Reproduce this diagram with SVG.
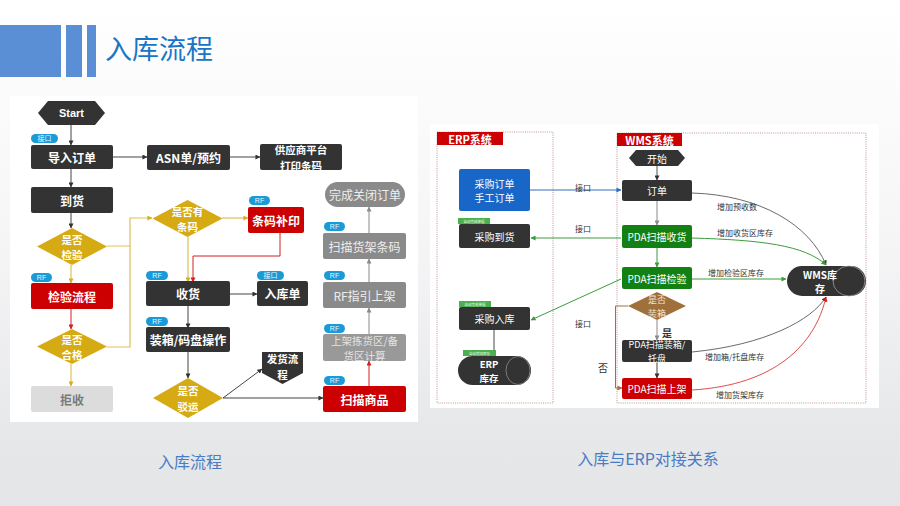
<svg xmlns="http://www.w3.org/2000/svg" width="900" height="506" viewBox="0 0 900 506">
<defs>
<linearGradient id="bg" x1="0" y1="0" x2="0" y2="1">
<stop offset="0" stop-color="#ffffff"/>
<stop offset="0.45" stop-color="#f6f6f7"/>
<stop offset="0.85" stop-color="#e7e8ea"/>
<stop offset="1" stop-color="#e4e5e7"/>
</linearGradient>
<marker id="aK" viewBox="0 0 6 6" refX="5.5" refY="3" markerWidth="5" markerHeight="5" orient="auto" markerUnits="userSpaceOnUse"><path d="M0,0 L6,3 L0,6 z" fill="#333"/></marker>
<marker id="aG" viewBox="0 0 6 6" refX="5.5" refY="3" markerWidth="5" markerHeight="5" orient="auto" markerUnits="userSpaceOnUse"><path d="M0,0 L6,3 L0,6 z" fill="#8a8a8a"/></marker>
<marker id="aY" viewBox="0 0 6 6" refX="5.5" refY="3" markerWidth="5" markerHeight="5" orient="auto" markerUnits="userSpaceOnUse"><path d="M0,0 L6,3 L0,6 z" fill="#d8ad1a"/></marker>
<marker id="aR" viewBox="0 0 6 6" refX="5.5" refY="3" markerWidth="5" markerHeight="5" orient="auto" markerUnits="userSpaceOnUse"><path d="M0,0 L6,3 L0,6 z" fill="#d42020"/></marker>
<marker id="aB" viewBox="0 0 6 6" refX="5.5" refY="3" markerWidth="5" markerHeight="5" orient="auto" markerUnits="userSpaceOnUse"><path d="M0,0 L6,3 L0,6 z" fill="#2d70c0"/></marker>
<marker id="aN" viewBox="0 0 6 6" refX="5.5" refY="3" markerWidth="5" markerHeight="5" orient="auto" markerUnits="userSpaceOnUse"><path d="M0,0 L6,3 L0,6 z" fill="#3c9c3c"/></marker>
<marker id="aW" viewBox="0 0 6 6" refX="5.5" refY="3" markerWidth="5" markerHeight="5" orient="auto" markerUnits="userSpaceOnUse"><path d="M0,0 L6,3 L0,6 z" fill="#a0703a"/></marker>
</defs>
<style>
.f{font-family:"Noto Sans CJK SC","Liberation Sans",sans-serif}
.dk{fill:#333333}
.rd{fill:#cc0000}
.gy{fill:#8a8a8a}
.gd{fill:#d6aa12}
.gn{fill:#138013}
.bl{fill:#1766c8}
.tag{fill:#1a9ad6}
.gtag{fill:#4caf50}
.nt{font-family:"Noto Sans CJK SC","Liberation Sans",sans-serif;fill:#fff;font-weight:bold;font-size:12px;text-anchor:middle;dominant-baseline:central}
.nt2{font-family:"Noto Sans CJK SC","Liberation Sans",sans-serif;fill:#fff;font-weight:bold;font-size:10.5px;text-anchor:middle;dominant-baseline:central}
.rt{font-family:"Noto Sans CJK SC","Liberation Sans",sans-serif;fill:#fff;font-size:10px;text-anchor:middle;dominant-baseline:central}
.rt2{font-family:"Noto Sans CJK SC","Liberation Sans",sans-serif;fill:#fff;font-size:9px;text-anchor:middle;dominant-baseline:central}
.tt{font-family:"Liberation Sans","Noto Sans CJK SC",sans-serif;fill:#e8f6ff;font-size:7px;text-anchor:middle;dominant-baseline:central}
.st{font-family:"Noto Sans CJK SC",sans-serif;fill:#e8ffe8;font-size:3.5px;text-anchor:middle;dominant-baseline:central}
.lb{font-family:"Noto Sans CJK SC",sans-serif;fill:#333;font-size:8px;dominant-baseline:central}
.lt{font-weight:normal;fill:#eeeeee}
.cK{fill:none;stroke:#444;stroke-width:1;marker-end:url(#aK)}
.cG{fill:none;stroke:#8a8a8a;stroke-width:1;marker-end:url(#aG)}
.cY{fill:none;stroke:#e2c053;stroke-width:1.2}
.cR{fill:none;stroke:#d42020;stroke-width:1}
.cB{fill:none;stroke:#2d70c0;stroke-width:1;marker-end:url(#aB)}
.cN{fill:none;stroke:#3c9c3c;stroke-width:1;marker-end:url(#aN)}
.cW{fill:none;stroke:#a0703a;stroke-width:1}
.frame{fill:none;stroke:#b47a7a;stroke-width:0.8;stroke-dasharray:1 1.2}
</style>

<rect x="0" y="0" width="900" height="506" fill="url(#bg)"/>

<g id="header">
<rect x="0" y="25" width="61" height="52" fill="#5a8fd6"/>
<rect x="66" y="25" width="16" height="52" fill="#5a8fd6"/>
<rect x="87" y="25" width="9" height="52" fill="#5a8fd6"/>
<text x="105" y="59" class="f" font-size="27" fill="#1a75c4">入库流程</text>
</g>

<g id="panel-left">
<rect x="10" y="96" width="408" height="326" fill="#ffffff"/>
</g>
<g id="panel-right">
<rect x="430" y="124" width="449" height="284" fill="#ffffff"/>
</g>

<g id="connectors-left">
<path class="cK" d="M71,125 V145"/>
<path class="cK" d="M113,157 H147"/>
<path class="cK" d="M230,157 H260"/>
<path class="cK" d="M71,169 V187"/>
<path class="cK" d="M71,213 V228"/>
<path class="cY" d="M71,265 V283" marker-end="url(#aY)"/>
<path class="cR" d="M71,309 V329" marker-end="url(#aR)"/>
<path class="cY" d="M71,364 V386" marker-end="url(#aY)"/>
<path class="cY" d="M107,246 H130 V218 H152" marker-end="url(#aY)"/>
<path class="cY" d="M107,347 H130 V246"/>
<path class="cY" d="M222,218 H248" marker-end="url(#aY)"/>
<path class="cY" d="M188,237 V282" marker-end="url(#aY)"/>
<path class="cR" d="M280,233 V256 H193 V282" marker-end="url(#aR)"/>
<path class="cK" d="M230,294 H257"/>
<path class="cK" d="M188,306 V328"/>
<path class="cK" d="M188,352 V378"/>
<path class="cK" d="M223,398 L262,369"/>
<path class="cK" d="M223,398 H323"/>
<path class="cR" d="M369,386 V361" marker-end="url(#aR)"/>
<path class="cG" d="M369,334 V308"/>
<path class="cG" d="M369,282 V259"/>
<path class="cG" d="M369,233 V207"/>
</g>

<g id="n-start"><polygon class="dk" points="38,113 48,101 95,101 105,113 95,125 48,125"/><text x="71.5" y="113" class="nt" style="font-size:11px;font-family:'Liberation Sans',sans-serif">Start</text></g>
<g id="n-import"><rect class="tag" x="31" y="134" width="27" height="9" rx="4.5"/><text x="44.5" y="138.5" class="tt">接口</text><rect class="dk" x="31" y="145" width="82" height="24" rx="2"/><text x="72" y="157" class="nt">导入订单</text></g>
<g id="n-asn"><rect class="dk" x="147" y="145" width="83" height="25" rx="2"/><text x="188.5" y="157.5" class="nt">ASN单/预约</text></g>
<g id="n-supplier"><rect class="dk" x="260" y="144" width="82" height="26" rx="2"/><text class="nt2"><tspan x="301" y="149.2">供应商平台</tspan><tspan x="301" y="164.8">打印条码</tspan></text></g>
<g id="n-arrive"><rect class="dk" x="31" y="187" width="82" height="26" rx="2"/><text x="72" y="200" class="nt">到货</text></g>
<g id="n-inspect-q"><polygon class="gd" points="72,228 107,246.5 72,265 37,246.5"/><text class="nt2"><tspan x="72" y="238.7">是否</tspan><tspan x="72" y="254.3">检验</tspan></text></g>
<g id="n-inspect"><rect class="tag" x="31" y="273" width="21" height="9" rx="4.5"/><text x="41.5" y="277.5" class="tt">RF</text><rect class="rd" x="31" y="283" width="82" height="26" rx="2"/><text x="72" y="296" class="nt">检验流程</text></g>
<g id="n-pass-q"><polygon class="gd" points="72,329 107,346.5 72,364 37,346.5"/><text class="nt2"><tspan x="72" y="338.7">是否</tspan><tspan x="72" y="354.3">合格</tspan></text></g>
<g id="n-reject"><rect x="31" y="386" width="82" height="26" rx="2" fill="#dcdcdc"/><text x="72" y="399" class="nt" style="fill:#7a7a7a">拒收</text></g>
<g id="n-barcode-q"><polygon class="gd" points="187.5,200 222.5,218.5 187.5,237 152.5,218.5"/><text class="nt2"><tspan x="187.5" y="210.7">是否有</tspan><tspan x="187.5" y="226.3">条码</tspan></text></g>
<g id="n-reprint"><rect class="tag" x="249" y="196" width="21" height="9" rx="4.5"/><text x="259.5" y="200.5" class="tt">RF</text><rect class="rd" x="248" y="207" width="56" height="26" rx="2"/><text x="276" y="220" class="nt">条码补印</text></g>
<g id="n-receive"><rect class="tag" x="146" y="271" width="22" height="9" rx="4.5"/><text x="157" y="275.5" class="tt">RF</text><rect class="dk" x="146" y="281" width="84" height="25" rx="2"/><text x="188" y="293.5" class="nt">收货</text></g>
<g id="n-inbound"><rect class="tag" x="257" y="271" width="27" height="9" rx="4.5"/><text x="270.5" y="275.5" class="tt">接口</text><rect class="dk" x="257" y="281" width="51" height="25" rx="2"/><text x="282.5" y="293.5" class="nt">入库单</text></g>
<g id="n-pack"><rect class="tag" x="146" y="317" width="22" height="9" rx="4.5"/><text x="157" y="321.5" class="tt">RF</text><rect class="dk" x="146" y="327" width="84" height="25" rx="2"/><text x="188" y="339.5" class="nt">装箱/码盘操作</text></g>
<g id="n-transfer-q"><polygon class="gd" points="188,378 223,398 188,418 153,398"/><text class="nt2"><tspan x="188" y="390.2">是否</tspan><tspan x="188" y="405.8">驳运</tspan></text></g>
<g id="n-ship"><polygon class="dk" points="262,352 303,352 303,373 282.5,384 262,373"/><text class="nt2"><tspan x="282.5" y="358">发货流</tspan><tspan x="282.5" y="373.6">程</tspan></text></g>
<g id="n-close"><rect class="gy" x="325" y="182" width="80" height="25" rx="12.5"/><text x="365" y="194.5" class="nt lt">完成关闭订单</text></g>
<g id="n-scan-shelf"><rect class="tag" x="324" y="222" width="21" height="9" rx="4.5"/><text x="334.5" y="226.5" class="tt">RF</text><rect class="gy" x="323" y="233" width="83" height="26" rx="2"/><text x="364.5" y="246" class="nt lt">扫描货架条码</text></g>
<g id="n-rf-guide"><rect class="tag" x="324" y="271" width="21" height="9" rx="4.5"/><text x="334.5" y="275.5" class="tt">RF</text><rect class="gy" x="323" y="282" width="83" height="26" rx="2"/><text x="364.5" y="295" class="nt lt">RF指引上架</text></g>
<g id="n-calc"><rect class="tag" x="324" y="324" width="21" height="9" rx="4.5"/><text x="334.5" y="328.5" class="tt">RF</text><rect x="323" y="334" width="83" height="27" rx="2" fill="#999"/><text class="nt2 lt" style="fill:#e4e4e4"><tspan x="364.5" y="339.8">上架拣货区/备</tspan><tspan x="364.5" y="355.4">货区计算</tspan></text></g>
<g id="n-scan-goods"><rect class="tag" x="324" y="376" width="21" height="9" rx="4.5"/><text x="334.5" y="380.5" class="tt">RF</text><rect class="rd" x="323" y="386" width="83" height="26" rx="2"/><text x="364.5" y="399" class="nt">扫描商品</text></g>

<g id="frames">
<rect class="frame" x="437" y="132" width="116" height="271"/>
<rect x="437" y="132" width="66" height="13" fill="#cc0000"/>
<text x="470" y="138.5" class="nt" style="font-size:11px">ERP系统</text>
<rect class="frame" x="617" y="133" width="249" height="270"/>
<rect x="617" y="133" width="65" height="13" fill="#cc0000"/>
<text x="649.5" y="139.5" class="nt" style="font-size:11px">WMS系统</text>
</g>

<g id="connectors-right">
<path class="cB" d="M530,190 H621"/>
<path class="cN" d="M621,238 H531"/>
<path class="cN" d="M621,279 L531,320"/>
<path class="cK" d="M657,166 V180" style="stroke:#555"/>
<path class="cG" d="M657,201 V225"/>
<path class="cN" d="M657,248 V267"/>
<path class="cG" d="M657,320 V340"/>
<path class="cK" d="M657,362 V378"/>
<path class="cW" d="M628,306 H615.5 V388 H622" marker-end="url(#aW)"/>
<path fill="none" stroke="#333" stroke-width="0.9" d="M494,330 V356"/>
<path class="cK" d="M692,193 C760,195 810,225 826,265" style="stroke-width:0.8"/>
<path class="cN" d="M692,238 C760,240 805,245 826,265"/>
<path class="cN" d="M692,279 H786"/>
<path class="cK" d="M692,352 C765,345 812,320 826,297" style="stroke-width:0.8"/>
<path class="cR" d="M692,390 C775,385 815,345 826,297" marker-end="url(#aR)" style="stroke-width:0.8"/>
</g>

<g id="labels-right">
<text x="583" y="187" class="lb" text-anchor="middle">接口</text>
<text x="583" y="228" class="lb" text-anchor="middle">接口</text>
<text x="583" y="323" class="lb" text-anchor="middle">接口</text>
<text x="603" y="367" class="lb" text-anchor="middle" style="font-size:10px">否</text>
<text x="667" y="332" class="lb" text-anchor="middle" style="font-size:10px;font-weight:bold">是</text>
<text x="717" y="206" class="lb">增加预收数</text>
<text x="717" y="232" class="lb">增加收货区库存</text>
<text x="708" y="272" class="lb">增加检验区库存</text>
<text x="705" y="356" class="lb">增加箱/托盘库存</text>
<text x="716" y="394" class="lb">增加货架库存</text>
</g>

<g id="r-po"><rect class="bl" x="459" y="169" width="71" height="42" rx="2"/><text class="rt"><tspan x="494.5" y="182.7">采购订单</tspan><tspan x="494.5" y="197.3">手工订单</tspan></text></g>
<g id="r-arrive"><rect class="gtag" x="458" y="218" width="32" height="6"/><text x="474" y="221" class="st">自动完成单据</text><rect class="dk" x="459" y="224" width="71" height="24" rx="2"/><text x="494.5" y="236" class="rt">采购到货</text></g>
<g id="r-instock"><rect class="gtag" x="459" y="301" width="32" height="6"/><text x="475" y="304" class="st">自动完成单据</text><rect class="dk" x="459" y="307" width="71" height="23" rx="2"/><text x="494.5" y="318.5" class="rt">采购入库</text></g>
<g id="r-erp-stock"><rect class="gtag" x="463" y="350" width="33" height="6"/><text x="479.5" y="353" class="st">自动增加库存</text><rect class="dk" x="458" y="356" width="73" height="29" rx="14.5"/><ellipse cx="518" cy="370.5" rx="12" ry="14" fill="#333" stroke="#999" stroke-width="0.7"/><text class="nt" style="font-size:9.5px"><tspan x="489" y="363.5">ERP</tspan><tspan x="489" y="377.5">库存</tspan></text></g>

<g id="w-start"><polygon class="dk" points="629,158 636,150 678,150 685,158 678,166 636,166"/><text x="657" y="158" class="rt">开始</text></g>
<g id="w-order"><rect class="dk" x="622" y="180" width="70" height="21" rx="2"/><text x="657" y="190.5" class="rt">订单</text></g>
<g id="w-receive"><rect class="gn" x="622" y="225" width="70" height="23" rx="2"/><text x="657" y="236.5" class="rt">PDA扫描收货</text></g>
<g id="w-inspect"><rect class="gn" x="622" y="267" width="70" height="22" rx="2"/><text x="657" y="278" class="rt">PDA扫描检验</text></g>
<g id="w-pack-q"><polygon points="657,292 686,306 657,320 628,306" fill="#a0703a"/><text class="rt2" style="fill:#f3e6d6"><tspan x="657" y="299.4">是否</tspan><tspan x="657" y="312.6">装箱</tspan></text></g>
<g id="w-pack"><rect class="dk" x="622" y="340" width="70" height="22" rx="2"/><text class="rt2"><tspan x="657" y="344.4">PDA扫描装箱/</tspan><tspan x="657" y="357.6">托盘</tspan></text></g>
<g id="w-shelve"><rect class="rd" x="622" y="378" width="70" height="21" rx="2"/><text x="657" y="388.5" class="rt">PDA扫描上架</text></g>
<g id="w-stock"><rect class="dk" x="787" y="266" width="79" height="30" rx="15"/><ellipse cx="849" cy="281" rx="16" ry="15" fill="#333" stroke="#aaa" stroke-width="0.7"/><text class="nt" style="font-size:10px"><tspan x="820" y="273.7">WMS库</tspan><tspan x="820" y="288.3">存</tspan></text></g>

<g id="captions">
<text x="190" y="461" class="f" font-size="16" fill="#4a7cc4" text-anchor="middle" dominant-baseline="central">入库流程</text>
<text x="648" y="458" class="f" font-size="16" fill="#4a7cc4" text-anchor="middle" dominant-baseline="central">入库与ERP对接关系</text>
</g>
</svg>
